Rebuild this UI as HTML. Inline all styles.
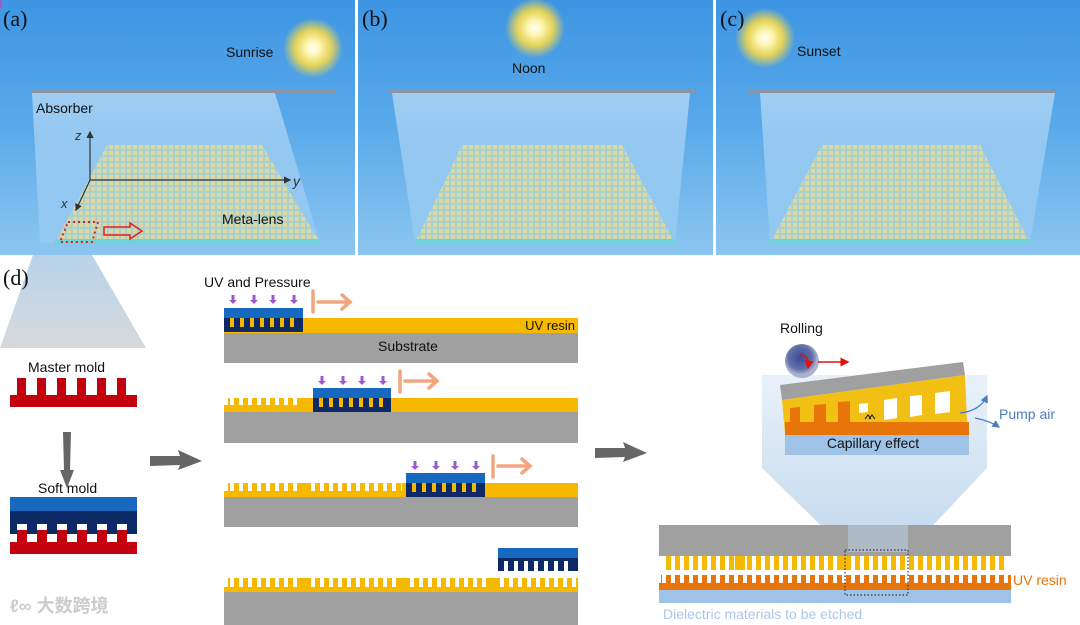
<!DOCTYPE html>
<html><head><meta charset="utf-8"><style>
html,body{margin:0;padding:0;background:#fff;}
svg{display:block;}
text{font-family:"Liberation Sans","Noto Sans CJK SC",sans-serif;}
</style></head><body>
<svg width="1080" height="625" viewBox="0 0 1080 625" xmlns="http://www.w3.org/2000/svg">
<defs>
<linearGradient id="sky" x1="0" y1="0" x2="0" y2="1">
<stop offset="0" stop-color="#3d95e3"/><stop offset="0.5" stop-color="#5aaaea"/><stop offset="1" stop-color="#8cc6f0"/></linearGradient>
<linearGradient id="beam" x1="0" y1="0" x2="0" y2="1">
<stop offset="0" stop-color="#fff" stop-opacity="0.45"/><stop offset="1" stop-color="#fff" stop-opacity="0.1"/></linearGradient>
<radialGradient id="sun"><stop offset="0" stop-color="#fff"/><stop offset="0.25" stop-color="#fff6b0"/><stop offset="0.6" stop-color="#f3d84a" stop-opacity="0.9"/><stop offset="1" stop-color="#f3d84a" stop-opacity="0"/></radialGradient>
<pattern id="lens" width="6" height="6" patternUnits="userSpaceOnUse">
<rect width="6" height="6" fill="#a9d0cf"/><rect x="1" y="1" width="4" height="4" fill="#dcd8a2"/></pattern>
<linearGradient id="trap" x1="0" y1="0" x2="0" y2="1"><stop offset="0" stop-color="#b8d3ea"/><stop offset="1" stop-color="#d6d9dc"/></linearGradient>
<linearGradient id="zoomreg" x1="0" y1="0" x2="0" y2="1"><stop offset="0" stop-color="#e3eef8"/><stop offset="1" stop-color="#b4cfea"/></linearGradient>
<radialGradient id="ball" cx="0.45" cy="0.4"><stop offset="0" stop-color="#3a4a9a"/><stop offset="0.7" stop-color="#6070a8"/><stop offset="1" stop-color="#aab2cf"/></radialGradient>
<pattern id="yt" width="9" height="20" patternUnits="userSpaceOnUse"><rect x="0" width="5" height="20" fill="#f7b900"/></pattern>
<pattern id="ot" width="9" height="20" patternUnits="userSpaceOnUse"><rect x="0" width="5" height="20" fill="#e8750a"/></pattern>
<marker id="ah" markerWidth="6" markerHeight="6" refX="5" refY="3" orient="auto"><path d="M0,0 L6,3 L0,6 z" fill="#333"/></marker>
<marker id="ahr" markerWidth="6" markerHeight="6" refX="5" refY="3" orient="auto"><path d="M0,0 L6,3 L0,6 z" fill="#e01010"/></marker>
<marker id="ahb" markerWidth="6" markerHeight="6" refX="5" refY="3" orient="auto"><path d="M0,0 L6,3 L0,6 z" fill="#4a7cc0"/></marker>
</defs>

<rect x="0" y="0" width="355" height="255" fill="url(#sky)"/>
<rect x="358" y="0" width="355" height="255" fill="url(#sky)"/>
<rect x="716" y="0" width="364" height="255" fill="url(#sky)"/>

<!-- panel a -->
<polygon points="32,93 275,93 320,243 40,243" fill="url(#beam)"/>
<rect x="32" y="89" width="303" height="4" fill="#8a96a8"/>
<polygon points="107,145 262,145 320,243 55,243" fill="url(#lens)"/>
<rect x="55" y="239" width="265" height="5" fill="#6fd4d8"/>
<circle cx="313" cy="48" r="30" fill="url(#sun)"/>
<text x="3" y="26" font-size="22" fill="#111" style="font-family:'Liberation Serif',serif">(a)</text>
<text x="226" y="57" font-size="14" fill="#111">Sunrise</text>
<text x="36" y="113" font-size="14" fill="#111">Absorber</text>
<text x="222" y="224" font-size="14" fill="#111">Meta-lens</text>
<line x1="90" y1="180" x2="90" y2="132" stroke="#333" stroke-width="1.2" marker-end="url(#ah)"/>
<line x1="90" y1="180" x2="290" y2="180" stroke="#333" stroke-width="1.2" marker-end="url(#ah)"/>
<line x1="90" y1="180" x2="76" y2="210" stroke="#333" stroke-width="1.2" marker-end="url(#ah)"/>
<text x="75" y="140" font-size="13" font-style="italic" fill="#333">z</text>
<text x="293" y="186" font-size="14" font-style="italic" fill="#333">y</text>
<text x="61" y="208" font-size="13" font-style="italic" fill="#333">x</text>
<polygon points="68,222 98,222 92,242 60,242" fill="none" stroke="#e02020" stroke-width="2" stroke-dasharray="2,3"/>
<path d="M104,227 h26 v-4 l12,8 l-12,8 v-4 h-26 z" fill="none" stroke="#e02020" stroke-width="1.5"/>

<!-- panel b -->
<polygon points="392,93 690,93 675,243 415,243" fill="url(#beam)"/>
<rect x="390" y="89" width="305" height="4" fill="#8a96a8"/>
<polygon points="462,145 622,145 675,243 415,243" fill="url(#lens)"/>
<rect x="415" y="239" width="260" height="5" fill="#6fd4d8"/>
<circle cx="535" cy="28" r="30" fill="url(#sun)"/>
<text x="362" y="26" font-size="22" fill="#111" style="font-family:'Liberation Serif',serif">(b)</text>
<text x="512" y="73" font-size="14" fill="#111">Noon</text>

<!-- panel c -->
<polygon points="760,93 1055,93 1030,243 770,243" fill="url(#beam)"/>
<rect x="748" y="89" width="307" height="4" fill="#8a96a8"/>
<polygon points="822,145 980,145 1030,243 770,243" fill="url(#lens)"/>
<rect x="770" y="239" width="260" height="5" fill="#6fd4d8"/>
<circle cx="765" cy="38" r="30" fill="url(#sun)"/>
<text x="720" y="26" font-size="22" fill="#111" style="font-family:'Liberation Serif',serif">(c)</text>
<text x="797" y="56" font-size="14" fill="#111">Sunset</text>

<!-- (d) left -->
<polygon points="33,255 92,255 146,348 0,348" fill="url(#trap)"/>
<text x="3" y="285" font-size="22" fill="#111" style="font-family:'Liberation Serif',serif">(d)</text>
<text x="28" y="372" font-size="14" fill="#111">Master mold</text>
<rect x="10" y="395" width="127" height="12" fill="#c4000f"/>
<g fill="#c4000f"><rect x="17" y="378" width="9" height="17"/><rect x="37" y="378" width="9" height="17"/><rect x="57" y="378" width="9" height="17"/><rect x="77" y="378" width="9" height="17"/><rect x="97" y="378" width="9" height="17"/><rect x="117" y="378" width="9" height="17"/></g>
<polygon points="63,432 71,432 70,470 74,470 67,488 60,470 64,470" fill="#666"/>
<text x="38" y="493" font-size="14" fill="#111">Soft mold</text>
<rect x="10" y="497" width="127" height="14" fill="#1769c0"/>
<rect x="10" y="511" width="127" height="13" fill="#0e2a66"/>
<rect x="10" y="524" width="127" height="18" fill="#fff"/>
<g fill="#0e2a66"><rect x="10" y="524" width="7" height="10"/><rect x="27" y="524" width="10" height="10"/><rect x="47" y="524" width="10" height="10"/><rect x="67" y="524" width="10" height="10"/><rect x="87" y="524" width="10" height="10"/><rect x="107" y="524" width="10" height="10"/><rect x="127" y="524" width="10" height="10"/></g>
<g fill="#c4000f"><rect x="17" y="530" width="10" height="12"/><rect x="37" y="530" width="10" height="12"/><rect x="57" y="530" width="10" height="12"/><rect x="77" y="530" width="10" height="12"/><rect x="97" y="530" width="10" height="12"/><rect x="117" y="530" width="10" height="12"/></g>
<rect x="10" y="542" width="127" height="12" fill="#c4000f"/>
<text x="10" y="612" font-size="18" fill="#ccc" font-weight="bold">ℓ∞ 大数跨境</text>

<polygon points="150,456 180,456 178,450 202,461 178,470 180,465 150,466" fill="#666"/>
<polygon points="595,448 625,448 623,442 647,453 623,462 625,457 595,458" fill="#666"/>

<text x="204" y="287" font-size="14" fill="#111">UV and Pressure</text>
<rect x="224" y="318" width="354" height="15" fill="#f7b900"/>
<rect x="224" y="333" width="354" height="30" fill="#a0a0a0"/>
<rect x="224" y="308" width="79" height="10" fill="#1769c0"/>
<rect x="224" y="318" width="79" height="14" fill="#0e2a66"/>
<g fill="#f7b900"><rect x="230" y="318" width="4" height="9"/><rect x="240" y="318" width="4" height="9"/><rect x="250" y="318" width="4" height="9"/><rect x="260" y="318" width="4" height="9"/><rect x="270" y="318" width="4" height="9"/><rect x="280" y="318" width="4" height="9"/><rect x="290" y="318" width="4" height="9"/></g>
<text x="575" y="330" font-size="13" fill="#111" text-anchor="end">UV resin</text>
<text x="408" y="351" font-size="14" fill="#111" text-anchor="middle">Substrate</text>
<rect x="224" y="398" width="354" height="14" fill="#f7b900"/>
<rect x="224" y="412" width="354" height="31" fill="#a0a0a0"/>
<rect x="224" y="398" width="76" height="7" fill="#fff"/>
<rect x="228" y="398" width="72" height="7" fill="url(#yt)"/>
<rect x="313" y="388" width="78" height="10" fill="#1769c0"/>
<rect x="313" y="398" width="78" height="14" fill="#0e2a66"/>
<g fill="#f7b900"><rect x="319" y="398" width="4" height="9"/><rect x="329" y="398" width="4" height="9"/><rect x="339" y="398" width="4" height="9"/><rect x="349" y="398" width="4" height="9"/><rect x="359" y="398" width="4" height="9"/><rect x="369" y="398" width="4" height="9"/><rect x="379" y="398" width="4" height="9"/></g>
<rect x="224" y="483" width="354" height="14" fill="#f7b900"/>
<rect x="224" y="497" width="354" height="30" fill="#a0a0a0"/>
<rect x="224" y="483" width="178" height="8" fill="#fff"/>
<rect x="228" y="483" width="174" height="8" fill="url(#yt)"/>
<rect x="300" y="483" width="10" height="8" fill="#f7b900"/>
<rect x="406" y="473" width="79" height="10" fill="#1769c0"/>
<rect x="406" y="483" width="79" height="14" fill="#0e2a66"/>
<g fill="#f7b900"><rect x="412" y="483" width="4" height="9"/><rect x="422" y="483" width="4" height="9"/><rect x="432" y="483" width="4" height="9"/><rect x="442" y="483" width="4" height="9"/><rect x="452" y="483" width="4" height="9"/><rect x="462" y="483" width="4" height="9"/><rect x="472" y="483" width="4" height="9"/></g>
<rect x="224" y="587" width="354" height="5" fill="#f7b900"/>
<rect x="228" y="578" width="350" height="10" fill="url(#yt)"/>
<rect x="300" y="578" width="10" height="10" fill="#f7b900"/>
<rect x="398" y="578" width="10" height="10" fill="#f7b900"/>
<rect x="490" y="578" width="10" height="10" fill="#f7b900"/>
<rect x="224" y="592" width="354" height="33" fill="#a0a0a0"/>
<rect x="498" y="548" width="80" height="10" fill="#1769c0"/>
<rect x="498" y="558" width="80" height="13" fill="#0e2a66"/>
<g fill="#fff"><rect x="504" y="561" width="4" height="10"/><rect x="514" y="561" width="4" height="10"/><rect x="524" y="561" width="4" height="10"/><rect x="534" y="561" width="4" height="10"/><rect x="544" y="561" width="4" height="10"/><rect x="554" y="561" width="4" height="10"/><rect x="564" y="561" width="4" height="10"/></g>

<g fill="#9b5cc8">
<g id="pa"><rect x="-1.5" y="0" width="3" height="5"/><polygon points="-4,5 4,5 0,9"/></g>
</g>
<g fill="#9b5cc8">
<use href="#pa" x="233" y="295"/><use href="#pa" x="254" y="295"/><use href="#pa" x="273" y="295"/><use href="#pa" x="294" y="295"/>
<use href="#pa" x="322" y="376"/><use href="#pa" x="343" y="376"/><use href="#pa" x="362" y="376"/><use href="#pa" x="383" y="376"/>
<use href="#pa" x="415" y="461"/><use href="#pa" x="436" y="461"/><use href="#pa" x="455" y="461"/><use href="#pa" x="476" y="461"/>
</g>
<g stroke="#f2a57e" stroke-width="3.5" fill="none" stroke-linecap="round">
<path d="M313,291 v21 M318,302 h32 M342,295 l8,7 l-8,7"/>
<path d="M400,371 v21 M405,381 h32 M429,374 l8,7 l-8,7"/>
<path d="M493,456 v21 M498,466 h32 M522,459 l8,7 l-8,7"/>
</g>

<polygon points="762,375 987,375 987,468 908,552 848,552 762,468" fill="url(#zoomreg)" opacity="0.8"/>
<text x="780" y="333" font-size="14" fill="#111">Rolling</text>
<circle cx="802" cy="361" r="17" fill="url(#ball)"/>
<path d="M800,355 q10,0 8,13" stroke="#e01010" stroke-width="1.5" fill="none" marker-end="url(#ahr)"/>
<line x1="818" y1="362" x2="848" y2="362" stroke="#e01010" stroke-width="1.5" marker-end="url(#ahr)"/>
<polygon points="780,385 963,362 965,375 782,400" fill="#a0a0a0"/>
<polygon points="782,400 965,375 967,422 785,434" fill="#f2bf14"/>
<rect x="785" y="422" width="184" height="13" fill="#e8750a"/>
<polygon points="790,408 800,407 800,422 790,422" fill="#e8750a"/>
<polygon points="814,405 826,404 826,422 814,422" fill="#e8750a"/>
<polygon points="838,402 850,401 850,422 838,422" fill="#e8750a"/>
<polygon points="859,404 868,403 868,412 859,413" fill="#fff"/>
<polygon points="884,400 897,398 897,418 884,420" fill="#fff"/>
<polygon points="910,396 922,395 922,415 910,417" fill="#fff"/>
<polygon points="935,393 950,391 950,412 935,414" fill="#fff"/>
<path d="M865,419 l3,-4 l3,4 M869,419 l3,-4 l3,4" stroke="#111" stroke-width="1" fill="none"/>
<rect x="785" y="435" width="184" height="20" fill="#9fc3e6"/>
<text x="873" y="448" font-size="14" fill="#111" text-anchor="middle">Capillary effect</text>
<path d="M960,413 q20,-2 27,-17" stroke="#4a7cc0" stroke-width="1.3" fill="none" marker-end="url(#ahb)"/>
<path d="M975,418 q15,3 24,9" stroke="#4a7cc0" stroke-width="1.3" fill="none" marker-end="url(#ahb)"/>
<text x="999" y="419" font-size="14" fill="#4a7cc0">Pump air</text>

<rect x="659" y="525" width="352" height="31" fill="#a0a0a0"/>
<rect x="663" y="556" width="345" height="14" fill="url(#yt)"/>
<rect x="735" y="556" width="10" height="14" fill="#f7b900"/>
<rect x="840" y="556" width="10" height="14" fill="#f7b900"/>
<rect x="659" y="583" width="352" height="7" fill="#e8750a"/>
<rect x="661" y="575" width="350" height="9" fill="url(#ot)"/>
<rect x="659" y="590" width="352" height="13" fill="#9fc3e6"/>
<polygon points="848,525 908,525 908,552 848,552" fill="#bcd3ea" opacity="0.5"/>
<rect x="845" y="550" width="63" height="45" fill="none" stroke="#334" stroke-width="1.2" stroke-dasharray="1.5,2"/>
<text x="1013" y="585" font-size="14" fill="#e8750a">UV resin</text>
<text x="663" y="619" font-size="14" fill="#a8c8e8">Dielectric materials to be etched</text>
</svg>
</body></html>
